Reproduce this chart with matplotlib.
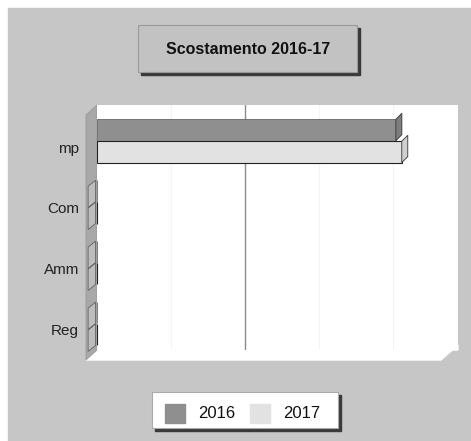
import matplotlib
matplotlib.use('Agg')
import matplotlib.pyplot as plt
from matplotlib.patches import Polygon, Rectangle
import numpy as np

categories = ['Reg', 'Amm', 'Com', 'mp']
v2016 = [0, 0, 0, 4.04]
v2017 = [0, 0, 0, 4.12]
series = ['2016', '2017']

plt.rcParams['font.family'] = ['Liberation Sans', 'DejaVu Sans']

W, H = 471, 441
fig = plt.figure(figsize=(W / 100, H / 100), dpi=100, facecolor='white')

# background layer in pixel coords
bg = fig.add_axes([0, 0, 1, 1])
bg.set_xlim(0, W)
bg.set_ylim(H, 0)
bg.axis('off')
bg.add_patch(Rectangle((8, 8), W - 8, H - 8, color='#c6c6c6', zorder=0))

# title box with shadow
bg.add_patch(Rectangle((141, 28), 219, 47, color='#3a3a3a', zorder=1))
bg.add_patch(Rectangle((138, 25), 219, 47, facecolor='#c2c2c2', edgecolor='#9a9a9a', lw=0.8, zorder=2))
bg.text(248, 49, 'Scostamento 2016-17', ha='center', va='center', fontsize=11.5,
        fontweight='bold', color='#111111', zorder=3)

# 3d floor and left wall
bg.add_patch(Polygon([(97, 350), (458, 350), (458, 345), (441, 360), (86, 360)],
                     closed=True, color='white', zorder=1))
bg.add_patch(Polygon([(86, 115), (97, 105), (97, 350), (86, 360)],
                     closed=True, facecolor='#a8a8a8', edgecolor='#999999', lw=0.6, zorder=2))

# legend box
bg.add_patch(Rectangle((155, 395), 186, 36, color='#3a3a3a', zorder=1))
bg.add_patch(Rectangle((152, 392), 186, 36, facecolor='white', edgecolor='#aaaaaa', lw=0.8, zorder=2))
leg_cols = ['#8f8f8f', '#e2e2e2']
for i, (lab, c) in enumerate(zip(series, leg_cols)):
    x0 = 165 + i * 85
    bg.add_patch(Rectangle((x0, 404), 20, 19, color=c, zorder=3))
    bg.text(x0 + 33, 413, lab, ha='left', va='center', fontsize=12, color='#111111', zorder=3)

# data axes = back wall
ax = fig.add_axes([97 / W, 1 - 350 / H, (458 - 97) / W, (350 - 105) / H])
ax.set_facecolor('white')
ax.set_xlim(0, 4.88)
ax.set_ylim(-0.43, 3.59)
for s in ax.spines.values():
    s.set_visible(False)

for gx in [1, 3, 4]:
    ax.axvline(gx, color='#f4f4f4', lw=0.8, zorder=1)
ax.axvline(2, color='#8a8a8a', lw=1.0, zorder=1)

pos = np.arange(len(categories))
h = 0.35
ax.barh(pos + 0.18, v2016, height=h, color='#8f8f8f', edgecolor='#666666', lw=0.6, zorder=3)
ax.barh(pos - 0.18, v2017, height=h, color='#e2e2e2', edgecolor='#222222', lw=0.8, zorder=3)

# end faces of the 3d bars
ddx, ddy = 6 / 74, 6 / 61
for off, vals, c in [(0.18, v2016, '#7e7e7e'), (-0.18, v2017, '#cfcfcf')]:
    for p, v in zip(pos, vals):
        y0, y1 = p + off - h / 2, p + off + h / 2
        if v > 0:
            pts = [(v, y0), (v, y1), (v + ddx, y1 + ddy), (v + ddx, y0 + ddy)]
            ax.add_patch(Polygon(pts, closed=True, facecolor=c, edgecolor='#333333',
                                 lw=0.6, zorder=4, clip_on=False))
        else:
            pts = [(-0.12, y0 - ddy), (-0.12, y1 - ddy), (-0.02, y1), (-0.02, y0)]
            ax.add_patch(Polygon(pts, closed=True, facecolor='#bdbdbd', edgecolor='#555555',
                                 lw=0.5, zorder=4, clip_on=False))

ax.set_xticks([])
ax.set_yticks(pos - 0.1)
ax.set_yticklabels(categories, fontsize=11, color='#222222')
ax.tick_params(axis='y', length=0, pad=13)

fig.savefig('out.png', dpi=100, facecolor='white')
